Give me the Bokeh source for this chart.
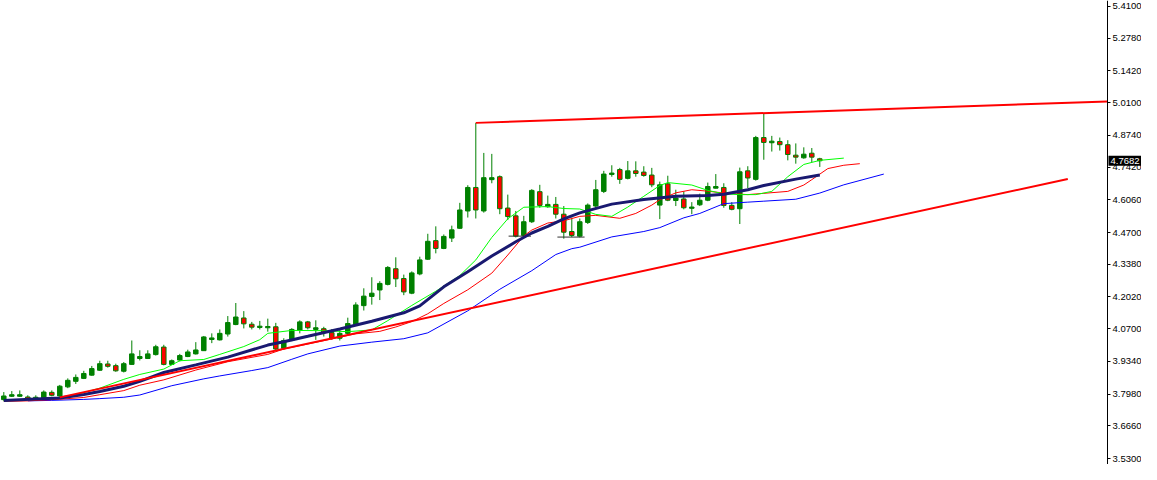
from bokeh.plotting import figure
from bokeh.models import Range1d, FixedTicker, PrintfTickFormatter, Label, ColumnDataSource
from bokeh.embed import file_html
from bokeh.resources import INLINE

# ---- candle data (bar index 0..102) ----
opens = [3.7753, 3.7892, 3.7892, 3.7863, 3.7730, 3.7823, 3.8055, 3.7904, 3.8283, 3.8514,
         3.8636, 3.8771, 3.8974, 3.9235, 3.9165, 3.8933, 3.9218, 3.9462, 3.9462, 3.9625,
         3.9939, 3.9218, 3.9397, 3.9544, 3.9654, 3.9788, 4.0252, 4.0236, 4.0480, 4.0874,
         4.1147, 4.0887, 4.0752, 4.0740, 4.0781, 3.9886, 4.0211, 4.0643, 4.0984, 4.0671,
         4.0700, 4.0537, 4.0305, 4.0508, 4.0874, 4.1660, 4.2042, 4.2311, 4.2543, 4.3194,
         4.2787, 4.2177, 4.2978, 4.3589, 4.4362, 4.4037, 4.4468, 4.4875, 4.5595, 4.6572,
         4.5595, 4.6897, 4.7019, 4.5717, 4.5392, 4.4578, 4.5147, 4.6397, 4.5770, 4.5868,
         4.5461, 4.4741, 4.4549, 4.5119, 4.5799, 4.6409, 4.7113, 4.7316, 4.6950, 4.7263,
         4.7211, 4.7088, 4.5839, 4.6722, 4.6030, 4.6095, 4.5705, 4.5851, 4.6042, 4.6543,
         4.6572, 4.5827, 4.5689, 4.7263, 4.6909, 4.8647, 4.8431, 4.8484, 4.8350, 4.7915,
         4.7805, 4.7996, 4.7764]
highs = [3.8067, 3.8108, 3.8136, 3.7933, 3.7933, 3.8136, 3.8136, 3.8364, 3.8636, 3.8799,
         3.8950, 3.9153, 3.9369, 3.9369, 3.9247, 3.9316, 4.0211, 3.9804, 3.9804, 4.0032,
         4.0032, 3.9422, 3.9654, 3.9829, 4.0142, 4.0399, 4.0508, 4.0671, 4.1227, 4.1769,
         4.1432, 4.0984, 4.1025, 4.1119, 4.0944, 4.0305, 4.0724, 4.1050, 4.1025, 4.1050,
         4.0781, 4.0684, 4.0671, 4.1159, 4.1798, 4.2380, 4.2840, 4.2677, 4.3304, 4.3670,
         4.2950, 4.3084, 4.3695, 4.4647, 4.4956, 4.4618, 4.4985, 4.5933, 4.6665, 4.9257,
         4.8008, 4.7968, 4.7072, 4.6275, 4.5595, 4.5392, 4.6502, 4.6682, 4.6234, 4.6177,
         4.5799, 4.5322, 4.5282, 4.5908, 4.6885, 4.7263, 4.7495, 4.7386, 4.7670, 4.7658,
         4.7455, 4.7386, 4.6816, 4.7060, 4.6478, 4.6409, 4.5962, 4.6315, 4.6775, 4.7129,
         4.6747, 4.5962, 4.7398, 4.7455, 4.8716, 4.9664, 4.8716, 4.8647, 4.8537, 4.8403,
         4.8240, 4.8211, 4.7805]
lows = [3.7701, 3.7863, 3.7863, 3.7754, 3.7701, 3.7795, 3.7892, 3.7876, 3.8230, 3.8404,
        3.8608, 3.8746, 3.8950, 3.9084, 3.8909, 3.8881, 3.9194, 3.9381, 3.9440, 3.9585,
        3.9178, 3.9206, 3.9340, 3.9520, 3.9625, 3.9776, 4.0101, 4.0211, 4.0374, 4.0846,
        4.0712, 4.0671, 4.0671, 4.0578, 3.9788, 3.9829, 4.0183, 4.0508, 4.0671, 4.0236,
        4.0374, 4.0236, 4.0211, 4.0439, 4.0822, 4.1457, 4.1701, 4.1892, 4.2502, 4.2433,
        4.2095, 4.2136, 4.2921, 4.3560, 4.3833, 4.4008, 4.4305, 4.4850, 4.5322, 4.5282,
        4.5526, 4.6747, 4.5461, 4.5217, 4.4496, 4.4508, 4.5094, 4.5729, 4.5729, 4.5282,
        4.4443, 4.4508, 4.4496, 4.5053, 4.5664, 4.6340, 4.7019, 4.6722, 4.6909, 4.7019,
        4.7019, 4.6584, 4.5257, 4.6002, 4.5799, 4.5664, 4.5461, 4.5799, 4.6002, 4.6531,
        4.5729, 4.5623, 4.5053, 4.6543, 4.6857, 4.7724, 4.8065, 4.8106, 4.7699, 4.7561,
        4.7764, 4.7630, 4.7426]
closes = [3.7904, 3.7957, 3.7957, 3.7795, 3.7851, 3.8067, 3.7933, 3.8311, 3.8555, 3.8677,
          3.8840, 3.9043, 3.9247, 3.9137, 3.8950, 3.9247, 3.9654, 3.9544, 3.9654, 3.9951,
          3.9218, 3.9369, 3.9585, 3.9735, 3.9817, 4.0358, 4.0317, 4.0508, 4.0956, 4.1187,
          4.0903, 4.0765, 4.0805, 4.0793, 3.9857, 4.0211, 4.0671, 4.0984, 4.0740, 4.0740,
          4.0537, 4.0305, 4.0508, 4.0915, 4.1688, 4.2055, 4.2177, 4.2584, 4.3247, 4.2775,
          4.2230, 4.3019, 4.3560, 4.4334, 4.4037, 4.4537, 4.4810, 4.5636, 4.6572, 4.5636,
          4.6979, 4.6979, 4.5689, 4.5363, 4.4549, 4.5147, 4.6450, 4.5827, 4.5868, 4.5461,
          4.4712, 4.4578, 4.5147, 4.5839, 4.6478, 4.7129, 4.7170, 4.6909, 4.7263, 4.7153,
          4.7072, 4.6682, 4.6682, 4.6042, 4.6136, 4.5729, 4.5758, 4.6042, 4.6612, 4.6612,
          4.5827, 4.5664, 4.7223, 4.6966, 4.8647, 4.8444, 4.8496, 4.8350, 4.7943, 4.7833,
          4.7955, 4.7833, 4.7682]
bars = list(range(len(opens)))

# ---- moving averages (bar index, price) ----
ma_green_x = [0, 8, 12, 15, 17, 20, 22, 25, 27, 30, 32, 33, 36, 40, 43, 46, 48, 51, 54, 57,
              59, 61, 63, 65, 68, 70, 72, 74, 76, 78, 80, 82, 83, 86, 88, 90, 92, 94, 96, 98,
              100, 102, 105]
ma_green = [3.7701, 3.7863, 3.8230, 3.8596, 3.8799, 3.9023, 3.9369, 3.9422, 3.9633, 3.9959,
            4.0244, 4.0508, 4.0630, 4.0618, 4.0578, 4.0651, 4.1037, 4.1668, 4.2258, 4.2909,
            4.3560, 4.4496, 4.5269, 4.5750, 4.5778, 4.5697, 4.5676, 4.5453, 4.5371, 4.5758,
            4.6205, 4.6653, 4.6775, 4.6673, 4.6450, 4.6307, 4.6275, 4.6275, 4.6409, 4.7019,
            4.7528, 4.7699, 4.7792]
ma_navy_x = [0, 4, 7, 10, 12, 15, 17, 20, 24, 28, 33, 35, 38, 42, 46, 50, 52, 55, 58, 61,
             64, 66, 68, 70, 72, 76, 80, 84, 88, 90, 93, 95, 99, 102]
ma_navy = [3.7721, 3.7782, 3.7823, 3.7965, 3.8087, 3.8311, 3.8514, 3.8881, 3.9198, 3.9520,
           4.0020, 4.0162, 4.0386, 4.0691, 4.1009, 4.1363, 4.1648, 4.2441, 4.3072, 4.3723,
           4.4313, 4.4679, 4.4952, 4.5269, 4.5514, 4.5880, 4.6071, 4.6205, 4.6234, 4.6287,
           4.6478, 4.6653, 4.6918, 4.7088]
ma_red_x = [0, 3, 7, 10, 12, 15, 17, 20, 24, 28, 33, 35, 40, 44, 47, 49, 51, 53, 55, 58,
            61, 63, 65, 66, 68, 70, 72, 74, 77, 79, 81, 82, 84, 86, 88, 90, 93, 95, 98, 100,
            101, 103, 105, 107]
ma_red = [3.7680, 3.7701, 3.7770, 3.7843, 3.7957, 3.8128, 3.8352, 3.8575, 3.8982, 3.9328,
          3.9633, 3.9857, 4.0203, 4.0488, 4.0590, 4.0773, 4.0997, 4.1322, 4.1750, 4.2319,
          4.3011, 4.3764, 4.4557, 4.4802, 4.5094, 4.5188, 4.5371, 4.5412, 4.5290, 4.5493,
          4.5839, 4.6063, 4.6348, 4.6478, 4.6417, 4.6340, 4.6275, 4.6328, 4.6409, 4.6673,
          4.6897, 4.7357, 4.7495, 4.7561]
ma_blue_x = [3, 6, 10, 12, 15, 17, 21, 25, 27, 31, 33, 36, 38, 42, 46, 50, 53, 58, 62, 66,
             69, 71, 72, 76, 80, 82, 85, 87, 90, 93, 95, 99, 102, 105, 110]
ma_blue = [3.7701, 3.7721, 3.7762, 3.7795, 3.7851, 3.7945, 3.8331, 3.8616, 3.8738, 3.8962,
           3.9084, 3.9430, 3.9654, 3.9979, 4.0142, 4.0285, 4.0529, 4.1444, 4.2340, 4.3113,
           4.3784, 4.4028, 4.4089, 4.4517, 4.4741, 4.4903, 4.5310, 4.5493, 4.5900, 4.5962,
           4.6002, 4.6083, 4.6340, 4.6682, 4.7129]

# ---- trend lines and support marks (bar index, price) ----
upper_trend_x = [59, 137.96]
upper_trend_y = [4.9257, 5.0150]
lower_trend_x = [7, 133]
lower_trend_y = [3.7847, 4.6926]
support_x0 = [63.1, 69.2]
support_x1 = [65.9, 72.6]
support_y = [4.4549, 4.4510]

tick_values = [3.5300, 3.6660, 3.7980, 3.9340, 4.0700, 4.2020, 4.3380, 4.4700,
               4.6060, 4.7420, 4.8740, 5.0100, 5.1420, 5.2780, 5.4100]
last_price = 4.7682
axis_bar = 137.96      # bar position of the price scale line

GREEN = "#008000"
RED = "#ff0000"

p = figure(width=1141, height=464, output_backend="svg", toolbar_location=None,
           x_range=Range1d(-0.4125, 142.2125), y_range=Range1d(3.5056, 5.4344),
           x_axis_location=None, y_axis_location="right",
           min_border_left=0, min_border_top=0, min_border_bottom=0, min_border_right=0)
p.grid.visible = False
p.outline_line_color = None
p.background_fill_color = "white"
p.border_fill_color = "white"

ya = p.yaxis[0]
ya.fixed_location = axis_bar
ya.ticker = FixedTicker(ticks=tick_values)
ya.formatter = PrintfTickFormatter(format="%.4f")
ya.major_tick_in = 0
ya.major_tick_out = 3
ya.minor_tick_in = 0
ya.minor_tick_out = 0
ya.axis_line_color = "black"
ya.major_tick_line_color = "black"
ya.major_label_text_font = "Liberation Sans"
ya.major_label_text_font_size = "9.5px"
ya.major_label_text_color = "black"
ya.major_label_standoff = 2

fill = [GREEN if c >= o else RED for o, c in zip(opens, closes)]
top = [max(o, c) for o, c in zip(opens, closes)]
bot = [min(o, c) for o, c in zip(opens, closes)]
src = ColumnDataSource(dict(x=bars, high=highs, low=lows, top=top, bottom=bot, fill=fill))

p.segment(x0="x", y0="low", x1="x", y1="high", source=src, line_color=GREEN, line_width=1)
p.vbar(x="x", width=0.56, top="top", bottom="bottom", source=src,
       fill_color="fill", line_color=GREEN, line_width=1)

p.segment(x0=support_x0, y0=support_y, x1=support_x1, y1=support_y,
          line_color="#333333", line_width=1)

p.line(ma_blue_x, ma_blue, line_color="#0000ff", line_width=1)
p.line(ma_red_x, ma_red, line_color=RED, line_width=1)
p.line(ma_green_x, ma_green, line_color="#00ff00", line_width=1)
p.line(ma_navy_x, ma_navy, line_color="#191970", line_width=3)

p.line(upper_trend_x, upper_trend_y, line_color=RED, line_width=2)
p.line(lower_trend_x, lower_trend_y, line_color=RED, line_width=2)

p.add_layout(Label(x=axis_bar, y=last_price, x_offset=1, text="%.4f" % last_price,
                   text_color="white", background_fill_color="black",
                   text_font="Liberation Sans", text_font_size="9.5px",
                   text_baseline="middle", text_align="left", padding=2))

open("out.html", "w").write(file_html(p, INLINE))
